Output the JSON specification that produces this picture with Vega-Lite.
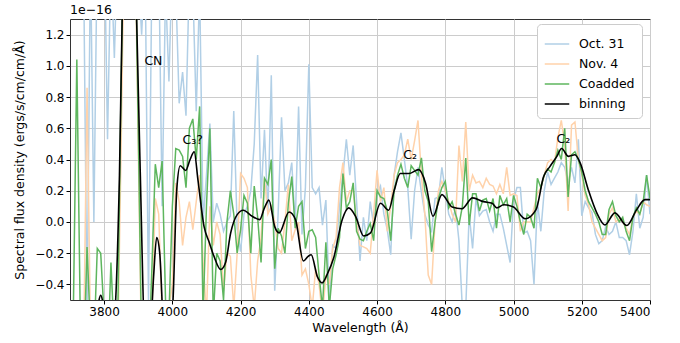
{
  "$schema": "https://vega.github.io/schema/vega-lite/v6.json",
  "width": 580,
  "height": 281,
  "autosize": {"type": "none"},
  "padding": {"left": 70, "top": 19, "right": 30, "bottom": 43},
  "background": "white",
  "config": {
    "font": "DejaVu Sans",
    "view": {"stroke": "#333333", "strokeWidth": 1},
    "axis": {"grid": true, "gridColor": "#cccccc", "gridWidth": 1, "domain": false, "tickColor": "#000000", "tickSize": 4, "labelColor": "#000000", "labelFontSize": 12, "titleFontSize": 12.5, "titleFontWeight": "normal", "titleColor": "#000000", "labelPadding": 2}
  },
  "title": {"text": "1e\u221216", "anchor": "start", "frame": "group", "fontSize": 12.5, "fontWeight": "normal", "offset": 3, "color": "#000000"},
  "datasets": {
    "spec": [
      {"x":3700,"o31":1.6,"n4":-0.9,"co":-0.8},
      {"x":3710,"o31":1.8,"n4":-0.7,"co":-0.55},
      {"x":3720,"o31":1.5,"n4":-1.0,"co":1.04},
      {"x":3730,"o31":1.9,"n4":-0.6,"co":-0.6},
      {"x":3740,"o31":1.6,"n4":-0.8,"co":-0.9},
      {"x":3750,"o31":-0.6,"n4":0.86,"co":-0.16},
      {"x":3760,"o31":1.7,"n4":-0.7,"co":-0.7},
      {"x":3770,"o31":0.0,"n4":-1.0,"co":-0.8},
      {"x":3780,"o31":1.8,"n4":-0.6,"co":-0.17},
      {"x":3790,"o31":1.6,"n4":-0.9,"co":-0.2},
      {"x":3800,"o31":1.9,"n4":-0.7,"co":-0.6},
      {"x":3810,"o31":0.53,"n4":-1.1,"co":-0.9},
      {"x":3820,"o31":1.7,"n4":-0.6,"co":-0.26},
      {"x":3830,"o31":1.05,"n4":-0.9,"co":-0.75},
      {"x":3840,"o31":1.8,"n4":-0.8,"co":-0.6},
      {"x":3850,"o31":1.4,"n4":0.5,"co":0.9},
      {"x":3860,"o31":2.5,"n4":2.0,"co":2.2},
      {"x":3870,"o31":3.0,"n4":3.0,"co":3.1},
      {"x":3880,"o31":2.9,"n4":3.0,"co":3.0},
      {"x":3890,"o31":2.4,"n4":1.9,"co":2.0},
      {"x":3900,"o31":1.6,"n4":0.5,"co":0.6},
      {"x":3910,"o31":1.2,"n4":-0.9,"co":-0.8},
      {"x":3920,"o31":1.7,"n4":-0.7,"co":-0.7},
      {"x":3930,"o31":-0.5,"n4":-1.0,"co":-0.9},
      {"x":3940,"o31":1.6,"n4":-0.6,"co":-0.3},
      {"x":3950,"o31":1.35,"n4":0.15,"co":0.37},
      {"x":3960,"o31":1.7,"n4":0.05,"co":0.22},
      {"x":3970,"o31":0.1,"n4":-0.6,"co":0.39},
      {"x":3980,"o31":1.5,"n4":-0.9,"co":-0.5},
      {"x":3990,"o31":0.9,"n4":-0.55,"co":-0.6},
      {"x":4000,"o31":1.7,"n4":-0.4,"co":0.1},
      {"x":4010,"o31":1.5,"n4":0.25,"co":0.47},
      {"x":4020,"o31":0.76,"n4":0.13,"co":0.46},
      {"x":4030,"o31":0.96,"n4":-0.15,"co":0.42},
      {"x":4040,"o31":0.68,"n4":0.03,"co":0.22},
      {"x":4050,"o31":1.6,"n4":0.13,"co":0.6},
      {"x":4060,"o31":1.5,"n4":-0.05,"co":0.66},
      {"x":4070,"o31":0.71,"n4":0.13,"co":0.4},
      {"x":4080,"o31":1.5,"n4":0.3,"co":0.74},
      {"x":4090,"o31":0.0,"n4":-0.25,"co":-0.6},
      {"x":4100,"o31":0.3,"n4":-0.6,"co":0.1},
      {"x":4110,"o31":0.63,"n4":0.1,"co":0.6},
      {"x":4120,"o31":0.0,"n4":-0.15,"co":-0.6},
      {"x":4130,"o31":0.12,"n4":0.0,"co":-0.2},
      {"x":4140,"o31":0.05,"n4":-0.08,"co":-0.25},
      {"x":4150,"o31":-0.06,"n4":-0.44,"co":-0.5},
      {"x":4160,"o31":0.0,"n4":-0.2,"co":0.0},
      {"x":4170,"o31":0.04,"n4":-0.22,"co":0.2},
      {"x":4180,"o31":0.71,"n4":-0.55,"co":0.05},
      {"x":4190,"o31":-0.04,"n4":-0.2,"co":-0.2},
      {"x":4200,"o31":-0.19,"n4":0.31,"co":-0.05},
      {"x":4210,"o31":0.05,"n4":0.28,"co":0.17},
      {"x":4220,"o31":0.1,"n4":0.22,"co":0.12},
      {"x":4230,"o31":0.2,"n4":-0.34,"co":-0.2},
      {"x":4240,"o31":0.5,"n4":-0.55,"co":0.23},
      {"x":4250,"o31":1.07,"n4":-0.25,"co":0.03},
      {"x":4260,"o31":0.15,"n4":-0.1,"co":-0.26},
      {"x":4270,"o31":0.59,"n4":0.28,"co":0.28},
      {"x":4280,"o31":0.05,"n4":0.05,"co":0.24},
      {"x":4290,"o31":0.94,"n4":0.1,"co":0.4},
      {"x":4300,"o31":-0.44,"n4":0.0,"co":-0.3},
      {"x":4310,"o31":0.05,"n4":-0.17,"co":-0.04},
      {"x":4320,"o31":0.67,"n4":-0.2,"co":-0.09},
      {"x":4330,"o31":0.2,"n4":0.0,"co":-0.2},
      {"x":4340,"o31":0.25,"n4":0.24,"co":0.12},
      {"x":4350,"o31":0.38,"n4":-0.12,"co":0.29},
      {"x":4360,"o31":-0.02,"n4":-0.05,"co":-0.04},
      {"x":4370,"o31":0.74,"n4":0.0,"co":0.1},
      {"x":4380,"o31":-0.08,"n4":-0.34,"co":0.13},
      {"x":4390,"o31":0.22,"n4":-0.3,"co":-0.17},
      {"x":4400,"o31":1.01,"n4":-0.4,"co":-0.06},
      {"x":4410,"o31":0.22,"n4":-0.55,"co":-0.05},
      {"x":4420,"o31":0.18,"n4":-0.3,"co":-0.1},
      {"x":4430,"o31":0.22,"n4":-0.4,"co":-0.34},
      {"x":4440,"o31":-0.02,"n4":-0.6,"co":-0.55},
      {"x":4450,"o31":0.14,"n4":-0.34,"co":-0.13},
      {"x":4460,"o31":-0.5,"n4":-0.4,"co":-0.55},
      {"x":4470,"o31":-0.15,"n4":-0.17,"co":-0.3},
      {"x":4480,"o31":-0.17,"n4":-0.1,"co":-0.21},
      {"x":4490,"o31":0.1,"n4":0.22,"co":-0.1},
      {"x":4500,"o31":0.3,"n4":0.38,"co":0.31},
      {"x":4510,"o31":0.53,"n4":0.13,"co":0.09},
      {"x":4520,"o31":0.3,"n4":0.2,"co":0.13},
      {"x":4530,"o31":0.49,"n4":0.2,"co":0.25},
      {"x":4540,"o31":0.13,"n4":0.0,"co":-0.06},
      {"x":4550,"o31":-0.25,"n4":-0.15,"co":-0.11},
      {"x":4560,"o31":0.03,"n4":-0.16,"co":-0.12},
      {"x":4570,"o31":-0.12,"n4":-0.17,"co":-0.06},
      {"x":4580,"o31":0.13,"n4":-0.2,"co":-0.01},
      {"x":4590,"o31":-0.02,"n4":0.05,"co":-0.12},
      {"x":4600,"o31":0.18,"n4":0.33,"co":0.2},
      {"x":4610,"o31":0.23,"n4":0.13,"co":0.16},
      {"x":4620,"o31":0.05,"n4":0.22,"co":0.15},
      {"x":4630,"o31":-0.05,"n4":-0.06,"co":0.07},
      {"x":4640,"o31":-0.21,"n4":0.1,"co":-0.12},
      {"x":4650,"o31":0.3,"n4":0.3,"co":0.2},
      {"x":4660,"o31":0.45,"n4":0.38,"co":0.3},
      {"x":4670,"o31":0.57,"n4":0.4,"co":0.37},
      {"x":4680,"o31":0.4,"n4":0.43,"co":0.28},
      {"x":4690,"o31":0.22,"n4":0.53,"co":0.22},
      {"x":4700,"o31":-0.11,"n4":0.4,"co":0.36},
      {"x":4710,"o31":0.2,"n4":0.52,"co":0.33},
      {"x":4720,"o31":0.35,"n4":0.65,"co":0.3},
      {"x":4730,"o31":0.19,"n4":0.3,"co":0.41},
      {"x":4740,"o31":0.05,"n4":0.05,"co":0.2},
      {"x":4750,"o31":-0.02,"n4":-0.34,"co":0.13},
      {"x":4760,"o31":-0.06,"n4":-0.4,"co":-0.19},
      {"x":4770,"o31":0.15,"n4":0.0,"co":0.0},
      {"x":4780,"o31":0.16,"n4":0.2,"co":0.15},
      {"x":4790,"o31":0.35,"n4":0.26,"co":0.22},
      {"x":4800,"o31":0.2,"n4":0.2,"co":0.26},
      {"x":4810,"o31":0.05,"n4":0.13,"co":0.09},
      {"x":4820,"o31":0.0,"n4":0.05,"co":0.13},
      {"x":4830,"o31":0.09,"n4":0.0,"co":0.05},
      {"x":4840,"o31":-0.12,"n4":0.49,"co":-0.02},
      {"x":4850,"o31":-0.55,"n4":0.26,"co":0.1},
      {"x":4860,"o31":-0.55,"n4":0.64,"co":0.41},
      {"x":4870,"o31":0.05,"n4":0.2,"co":-0.02},
      {"x":4880,"o31":-0.17,"n4":0.3,"co":0.18},
      {"x":4890,"o31":0.15,"n4":0.25,"co":0.18},
      {"x":4900,"o31":0.04,"n4":0.26,"co":0.07},
      {"x":4910,"o31":0.07,"n4":0.22,"co":0.14},
      {"x":4920,"o31":0.08,"n4":0.28,"co":0.15},
      {"x":4930,"o31":0.0,"n4":0.24,"co":0.07},
      {"x":4940,"o31":-0.06,"n4":0.23,"co":0.15},
      {"x":4950,"o31":0.05,"n4":0.18,"co":-0.04},
      {"x":4960,"o31":0.05,"n4":0.24,"co":0.17},
      {"x":4970,"o31":-0.04,"n4":0.18,"co":0.11},
      {"x":4980,"o31":-0.15,"n4":0.35,"co":0.15},
      {"x":4990,"o31":-0.26,"n4":0.17,"co":0.0},
      {"x":5000,"o31":0.14,"n4":0.18,"co":0.17},
      {"x":5010,"o31":0.22,"n4":0.17,"co":0.1},
      {"x":5020,"o31":0.22,"n4":-0.06,"co":0.0},
      {"x":5030,"o31":-0.07,"n4":0.0,"co":-0.08},
      {"x":5040,"o31":-0.06,"n4":0.0,"co":0.05},
      {"x":5050,"o31":-0.12,"n4":0.0,"co":0.03},
      {"x":5060,"o31":-0.4,"n4":0.09,"co":-0.04},
      {"x":5070,"o31":0.13,"n4":0.18,"co":0.28},
      {"x":5080,"o31":-0.06,"n4":0.22,"co":0.22},
      {"x":5090,"o31":0.2,"n4":0.3,"co":0.3},
      {"x":5100,"o31":0.32,"n4":0.38,"co":0.34},
      {"x":5110,"o31":0.24,"n4":0.4,"co":0.32},
      {"x":5120,"o31":0.28,"n4":0.38,"co":0.38},
      {"x":5130,"o31":0.32,"n4":0.54,"co":0.46},
      {"x":5140,"o31":0.38,"n4":0.65,"co":0.4},
      {"x":5150,"o31":0.35,"n4":0.5,"co":0.6},
      {"x":5160,"o31":0.25,"n4":0.07,"co":0.16},
      {"x":5170,"o31":0.35,"n4":0.62,"co":0.43},
      {"x":5180,"o31":0.25,"n4":0.64,"co":0.45},
      {"x":5190,"o31":0.53,"n4":0.4,"co":0.4},
      {"x":5200,"o31":0.04,"n4":0.3,"co":0.32},
      {"x":5210,"o31":0.13,"n4":0.17,"co":0.2},
      {"x":5220,"o31":0.09,"n4":0.11,"co":0.13},
      {"x":5230,"o31":0.06,"n4":0.0,"co":0.09},
      {"x":5240,"o31":-0.08,"n4":-0.04,"co":0.05},
      {"x":5250,"o31":-0.14,"n4":-0.08,"co":0.0},
      {"x":5260,"o31":-0.12,"n4":-0.12,"co":-0.08},
      {"x":5270,"o31":-0.03,"n4":-0.1,"co":-0.08},
      {"x":5280,"o31":-0.08,"n4":0.05,"co":0.08},
      {"x":5290,"o31":-0.06,"n4":0.09,"co":0.13},
      {"x":5300,"o31":0.0,"n4":0.0,"co":0.04},
      {"x":5310,"o31":-0.1,"n4":0.02,"co":0.0},
      {"x":5320,"o31":-0.1,"n4":0.0,"co":0.03},
      {"x":5330,"o31":-0.12,"n4":-0.04,"co":-0.06},
      {"x":5340,"o31":-0.21,"n4":-0.08,"co":-0.12},
      {"x":5350,"o31":-0.06,"n4":0.03,"co":0.03},
      {"x":5360,"o31":0.18,"n4":0.07,"co":0.09},
      {"x":5370,"o31":-0.04,"n4":0.05,"co":0.05},
      {"x":5380,"o31":0.03,"n4":0.13,"co":0.13},
      {"x":5390,"o31":0.3,"n4":0.11,"co":0.3},
      {"x":5400,"o31":0.05,"n4":0.1,"co":0.15}
    ],
    "binned": [
      {"x":3700,"bin":-0.9},{"x":3730,"bin":-0.8},{"x":3760,"bin":-0.65},{"x":3780,"bin":-0.55},
      {"x":3790,"bin":-0.47},{"x":3800,"bin":-0.55},{"x":3815,"bin":-0.65},{"x":3830,"bin":-0.6},
      {"x":3845,"bin":0.3},{"x":3860,"bin":2.2},{"x":3875,"bin":3.0},{"x":3890,"bin":1.8},
      {"x":3905,"bin":0.4},{"x":3920,"bin":-0.7},{"x":3935,"bin":-0.7},{"x":3945,"bin":-0.35},
      {"x":3954,"bin":-0.1},{"x":3963,"bin":-0.2},{"x":3975,"bin":-0.7},{"x":3990,"bin":-0.8},
      {"x":4002,"bin":-0.5},{"x":4013,"bin":0.21},{"x":4023,"bin":0.36},{"x":4039,"bin":0.33},
      {"x":4052,"bin":0.4},{"x":4064,"bin":0.45},{"x":4075,"bin":0.27},{"x":4093,"bin":-0.03},
      {"x":4108,"bin":-0.13},{"x":4122,"bin":-0.22},{"x":4142,"bin":-0.305},{"x":4156,"bin":-0.26},
      {"x":4171,"bin":-0.07},{"x":4190,"bin":0.047},{"x":4208,"bin":0.075},{"x":4234,"bin":0.036},
      {"x":4256,"bin":0.015},{"x":4270,"bin":0.09},{"x":4283,"bin":0.14},{"x":4300,"bin":-0.03},
      {"x":4313,"bin":-0.07},{"x":4342,"bin":0.064},{"x":4361,"bin":0.015},{"x":4384,"bin":-0.25},
      {"x":4398,"bin":-0.22},{"x":4407,"bin":-0.21},{"x":4425,"bin":-0.35},{"x":4439,"bin":-0.39},
      {"x":4455,"bin":-0.33},{"x":4473,"bin":-0.23},{"x":4498,"bin":0.015},{"x":4517,"bin":0.09},
      {"x":4537,"bin":0.036},{"x":4561,"bin":-0.09},{"x":4581,"bin":-0.07},{"x":4610,"bin":0.12},
      {"x":4634,"bin":0.075},{"x":4650,"bin":0.2},{"x":4668,"bin":0.31},{"x":4693,"bin":0.31},
      {"x":4722,"bin":0.335},{"x":4742,"bin":0.25},{"x":4764,"bin":0.036},{"x":4790,"bin":0.175},
      {"x":4820,"bin":0.096},{"x":4849,"bin":0.085},{"x":4880,"bin":0.154},{"x":4912,"bin":0.13},
      {"x":4937,"bin":0.12},{"x":4951,"bin":0.09},{"x":4971,"bin":0.11},{"x":5000,"bin":0.096},
      {"x":5034,"bin":0.02},{"x":5066,"bin":0.079},{"x":5088,"bin":0.29},{"x":5107,"bin":0.356},
      {"x":5127,"bin":0.42},{"x":5141,"bin":0.47},{"x":5161,"bin":0.42},{"x":5180,"bin":0.43},
      {"x":5195,"bin":0.38},{"x":5219,"bin":0.207},{"x":5244,"bin":0.058},{"x":5268,"bin":-0.02},
      {"x":5297,"bin":0.058},{"x":5332,"bin":-0.023},{"x":5361,"bin":0.079},{"x":5385,"bin":0.143},
      {"x":5400,"bin":0.143}
    ],
    "ann": [
      {"t":"CN","x":3918,"y":1.03},
      {"t":"C\u2083?","x":4030,"y":0.525},
      {"t":"C\u2082","x":4677,"y":0.43},
      {"t":"C\u2082","x":5126,"y":0.53}
    ]
  },
  "encoding": {
    "x": {"field": "x", "type": "quantitative", "scale": {"domain": [3700, 5400], "nice": false, "zero": false},
          "axis": {"title": "Wavelength (\u00c5)", "values": [3800,4000,4200,4400,4600,4800,5000,5200,5400], "format": "d", "titlePadding": 4}},
    "y": {"field": "y", "type": "quantitative", "scale": {"domain": [-0.5, 1.3], "nice": false, "zero": false},
          "axis": {"title": "Spectral flux density (ergs/s/cm/cm/\u00c5)", "values": [-0.4,-0.2,0,0.2,0.4,0.6,0.8,1.0,1.2], "format": ".1f", "titlePadding": 8}},
    "color": {"field": "s", "type": "nominal",
              "scale": {"domain": ["o31","n4","co","bin"], "range": ["#b1cfe6","#ffd2aa","#5eb65e","#000000"]},
              "legend": {"orient": "none", "legendX": 467, "legendY": 5, "title": null, "symbolType": "stroke", "symbolSize": 600, "symbolStrokeWidth": 1.5, "labelFontSize": 12.5, "labelColor": "#000000", "fillColor": "white", "strokeColor": "#cccccc", "cornerRadius": 4, "padding": 7, "rowPadding": -5, "labelOffset": 9,
                         "labelExpr": "{'o31':'Oct. 31','n4':'Nov. 4','co':'Coadded','bin':'binning'}[datum.label]"}}
  },
  "layer": [
    {"data": {"name": "spec"}, "transform": [{"fold": ["o31"], "as": ["s", "y"]}],
     "mark": {"type": "line", "clip": true, "strokeWidth": 1.5}},
    {"data": {"name": "spec"}, "transform": [{"fold": ["n4"], "as": ["s", "y"]}],
     "mark": {"type": "line", "clip": true, "strokeWidth": 1.5}},
    {"data": {"name": "spec"}, "transform": [{"fold": ["co"], "as": ["s", "y"]}],
     "mark": {"type": "line", "clip": true, "strokeWidth": 1.5}},
    {"data": {"name": "binned"}, "transform": [{"fold": ["bin"], "as": ["s", "y"]}],
     "mark": {"type": "line", "clip": true, "strokeWidth": 1.6, "interpolate": "monotone"}},
    {"data": {"name": "ann"},
     "mark": {"type": "text", "align": "left", "baseline": "middle", "fontSize": 12.5, "color": "#000000"},
     "encoding": {"text": {"field": "t"}, "color": {"value": "#000000"}}}
  ]
}
